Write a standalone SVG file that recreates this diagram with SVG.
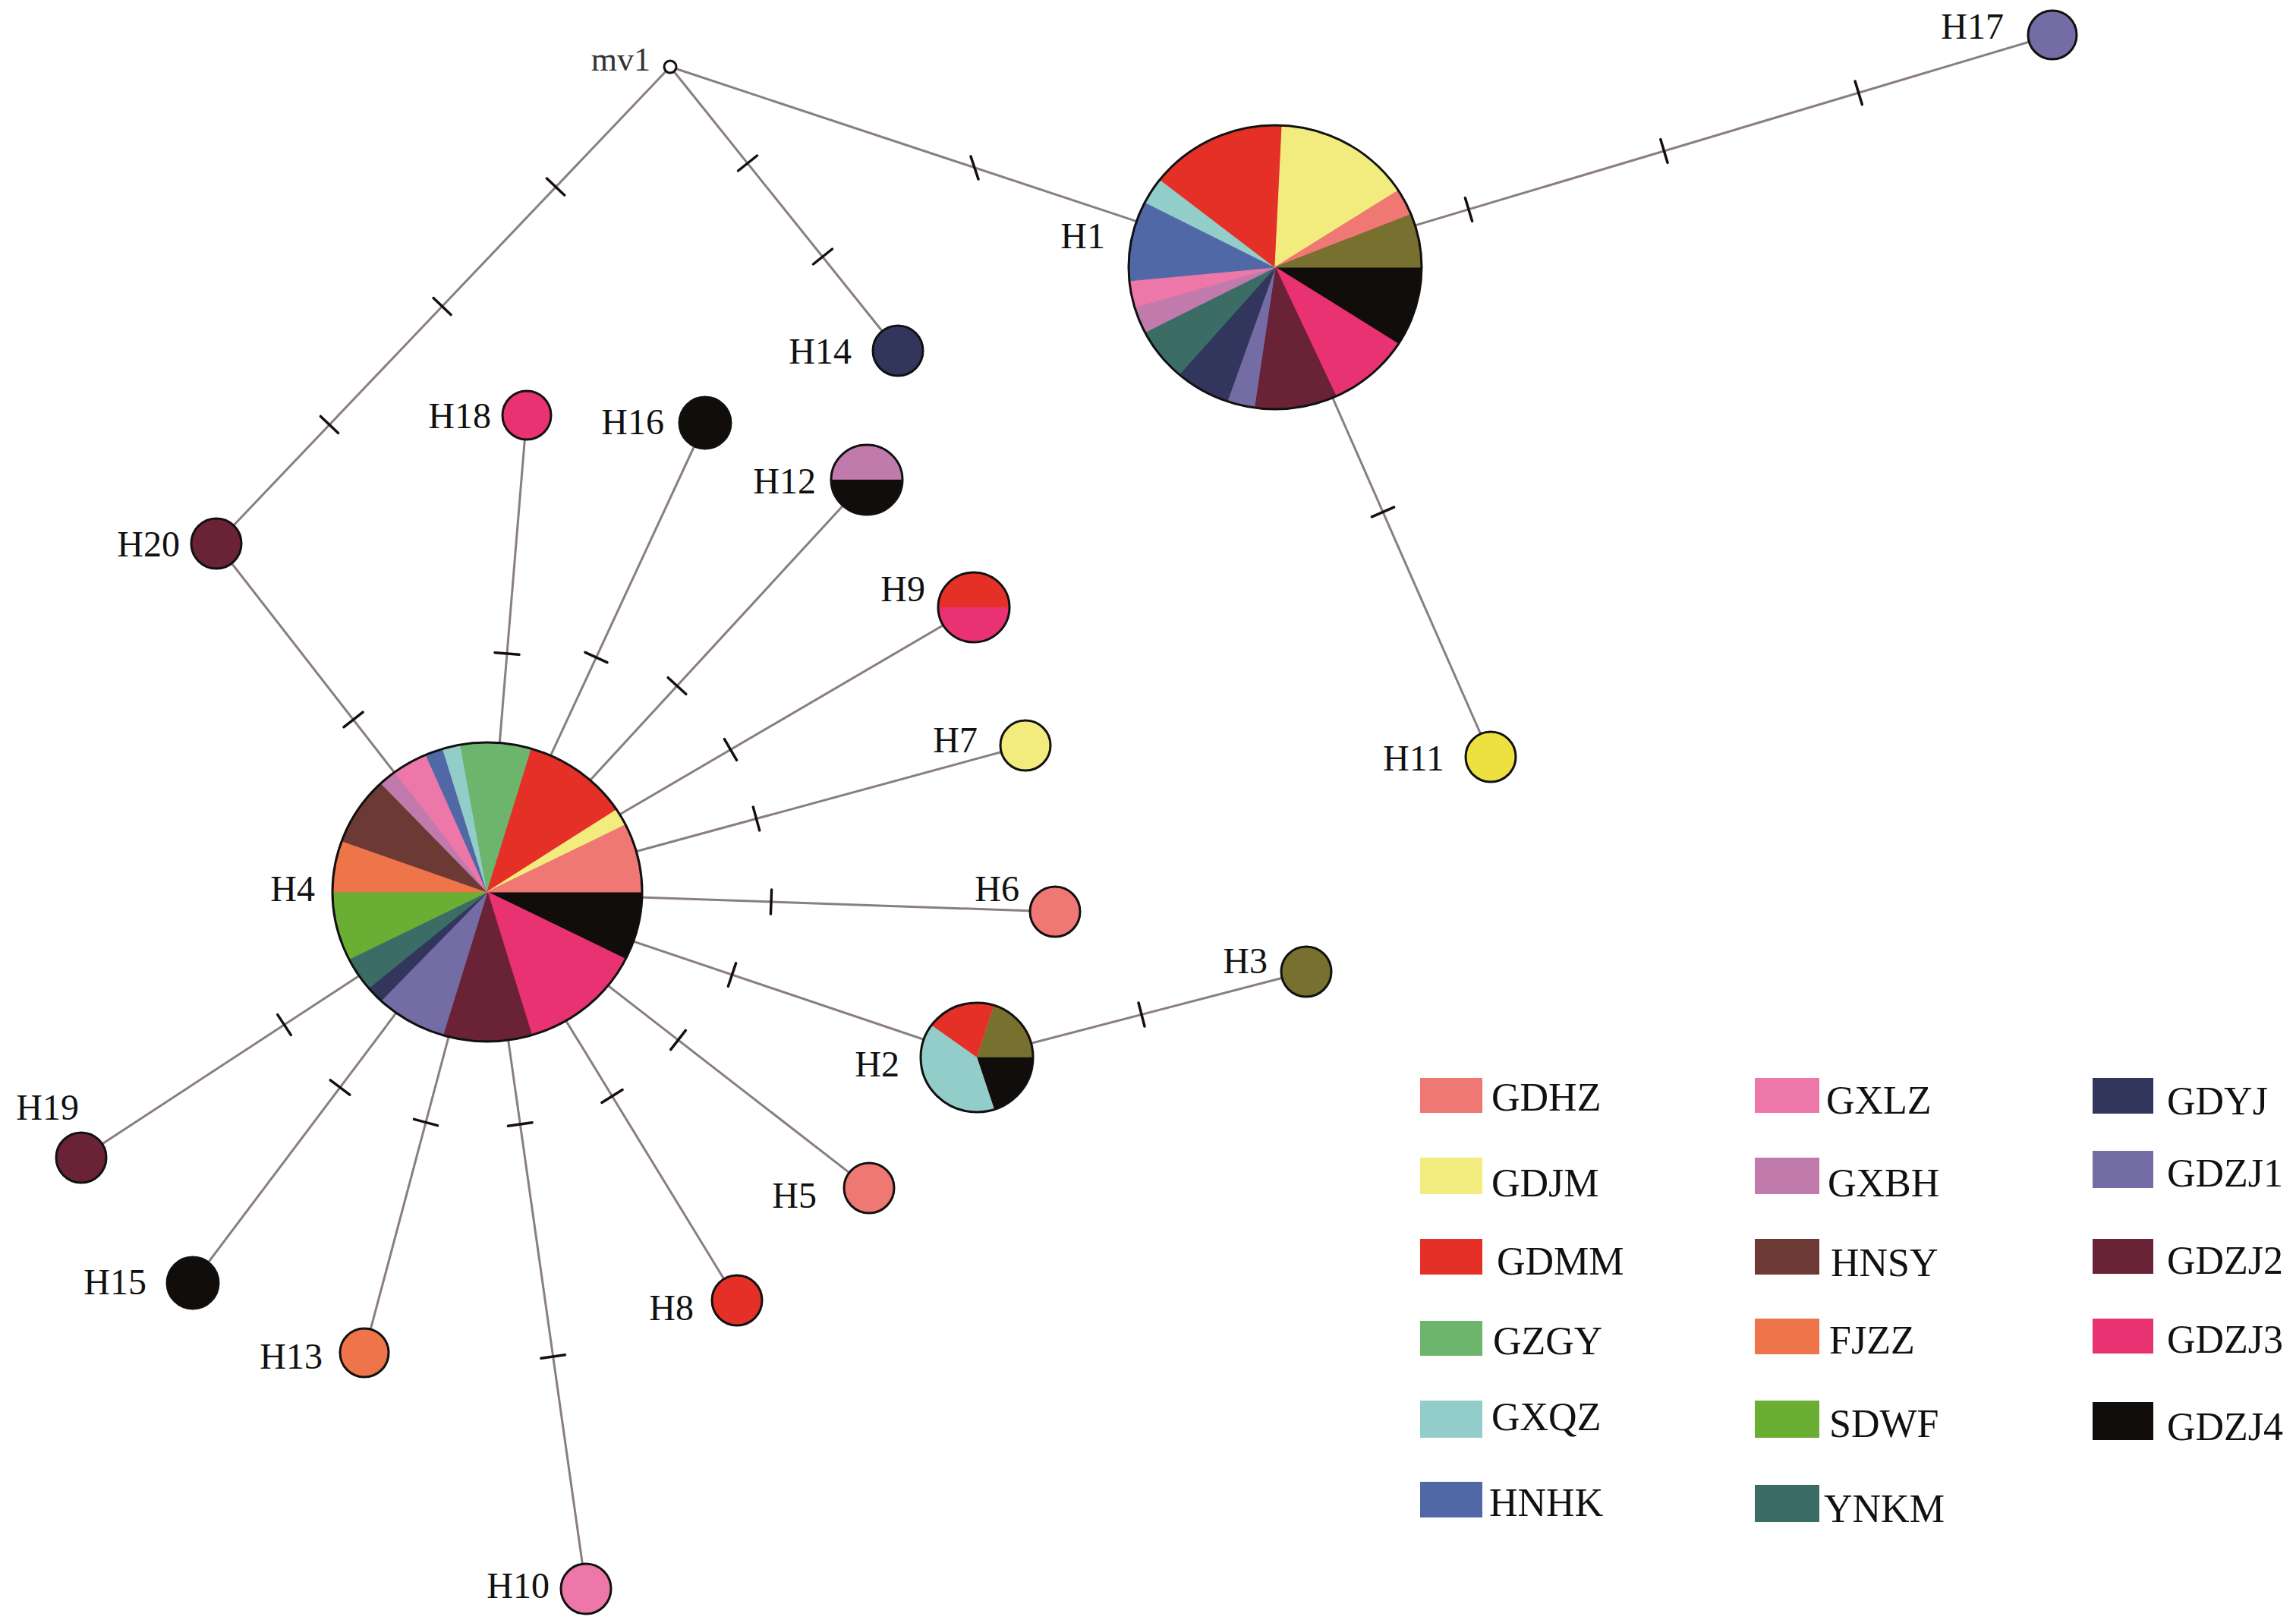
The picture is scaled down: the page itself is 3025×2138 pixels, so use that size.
<svg xmlns="http://www.w3.org/2000/svg" width="3025" height="2138" viewBox="0 0 3025 2138">
<style>
.e{stroke:#8a7e7e;stroke-width:3;fill:none}
.t{stroke:#141010;stroke-width:3.5;stroke-linecap:round}
.c1{fill:#EF7774;stroke:#EF7774}
.c2{fill:#F2EC7F;stroke:#F2EC7F}
.c3{fill:#E53027;stroke:#E53027}
.c4{fill:#6DB56D;stroke:#6DB56D}
.c5{fill:#93CDCA;stroke:#93CDCA}
.c6{fill:#5069A6;stroke:#5069A6}
.c7{fill:#EC77A8;stroke:#EC77A8}
.c8{fill:#C07AAB;stroke:#C07AAB}
.c9{fill:#6C3935;stroke:#6C3935}
.c10{fill:#EE744A;stroke:#EE744A}
.c11{fill:#6AAE33;stroke:#6AAE33}
.c12{fill:#3B6D66;stroke:#3B6D66}
.c13{fill:#33365C;stroke:#33365C}
.c14{fill:#746CA4;stroke:#746CA4}
.c15{fill:#6A2236;stroke:#6A2236}
.c16{fill:#E83272;stroke:#E83272}
.c17{fill:#110D0A;stroke:#110D0A}
.c18{fill:#77702E;stroke:#77702E}
.c19{fill:#EDE13F;stroke:#EDE13F}
.pie path{stroke-width:.006}
.n{stroke:#111;stroke-width:3}
.o{fill:none;stroke:#111;stroke-width:3}
.lb{font-family:"Liberation Serif","Times New Roman",serif;font-size:48px;fill:#111;text-anchor:end}
.lg{font-family:"Liberation Serif","Times New Roman",serif;font-size:52px;fill:#111}
.sw{stroke:none}
</style>
<rect width="3025" height="2138" fill="#fff"/>
<g id="connectors">
<line class="e" x1="883" y1="88" x2="1680" y2="352"/>
<line class="e" x1="883" y1="88" x2="1183" y2="462"/>
<line class="e" x1="883" y1="88" x2="285" y2="716"/>
<line class="e" x1="1680" y1="352" x2="2704" y2="46"/>
<line class="e" x1="1680" y1="352" x2="1964" y2="997"/>
<line class="e" x1="285" y1="716" x2="642" y2="1175"/>
<line class="e" x1="694" y1="547" x2="642" y2="1175"/>
<line class="e" x1="929" y1="557" x2="642" y2="1175"/>
<line class="e" x1="1142" y1="632" x2="642" y2="1175"/>
<line class="e" x1="1283" y1="800" x2="642" y2="1175"/>
<line class="e" x1="1351" y1="982" x2="642" y2="1175"/>
<line class="e" x1="1390" y1="1201" x2="642" y2="1175"/>
<line class="e" x1="1287" y1="1393" x2="642" y2="1175"/>
<line class="e" x1="1287" y1="1393" x2="1721" y2="1280"/>
<line class="e" x1="1145" y1="1565" x2="642" y2="1175"/>
<line class="e" x1="971" y1="1713" x2="642" y2="1175"/>
<line class="e" x1="772" y1="2093" x2="642" y2="1175"/>
<line class="e" x1="480" y1="1782" x2="642" y2="1175"/>
<line class="e" x1="254" y1="1690" x2="642" y2="1175"/>
<line class="e" x1="107" y1="1525" x2="642" y2="1175"/>
<line class="t" x1="1279" y1="206" x2="1289" y2="236"/>
<line class="t" x1="997.5" y1="205" x2="972.5" y2="225"/>
<line class="t" x1="1096.5" y1="328" x2="1071.5" y2="348"/>
<line class="t" x1="720.4" y1="235" x2="743.6" y2="257"/>
<line class="t" x1="571" y1="392.6" x2="594" y2="414.6"/>
<line class="t" x1="422.4" y1="548.4" x2="445.6" y2="570.4"/>
<line class="t" x1="1930.4" y1="260.7" x2="1939.6" y2="291.3"/>
<line class="t" x1="2187.8" y1="183.6" x2="2197" y2="214.2"/>
<line class="t" x1="2444.1" y1="107" x2="2453.3" y2="137.6"/>
<line class="t" x1="1836.6" y1="668.1" x2="1807.4" y2="680.9"/>
<line class="t" x1="478.1" y1="938.2" x2="452.9" y2="957.8"/>
<line class="t" x1="652" y1="859.7" x2="684" y2="862.3"/>
<line class="t" x1="800" y1="872.7" x2="771" y2="859.3"/>
<line class="t" x1="903.8" y1="914.3" x2="880.2" y2="892.7"/>
<line class="t" x1="970.6" y1="1001.3" x2="954.4" y2="973.7"/>
<line class="t" x1="1000.7" y1="1093.9" x2="992.3" y2="1063.1"/>
<line class="t" x1="1016.6" y1="1172" x2="1015.4" y2="1204"/>
<line class="t" x1="969.6" y1="1268.8" x2="959.4" y2="1299.2"/>
<line class="t" x1="1500" y1="1321" x2="1508" y2="1352"/>
<line class="t" x1="903.3" y1="1357.4" x2="883.7" y2="1382.6"/>
<line class="t" x1="820.1" y1="1435.6" x2="792.9" y2="1452.4"/>
<line class="t" x1="744.5" y1="1784.8" x2="712.9" y2="1789.2"/>
<line class="t" x1="701.1" y1="1478.8" x2="669.5" y2="1483.2"/>
<line class="t" x1="576.5" y1="1482.6" x2="545.5" y2="1474.4"/>
<line class="t" x1="460.8" y1="1442.1" x2="435.2" y2="1422.9"/>
<line class="t" x1="383.3" y1="1363.4" x2="365.7" y2="1336.6"/>
</g>
<g id="mv1">
<circle cx="883" cy="88" r="8" fill="#fff" stroke="#111" stroke-width="3"/>
<text x="857" y="93" style="font-family:'Liberation Serif','Times New Roman',serif;font-size:44px;fill:#333;text-anchor:end">mv1</text>
</g>
<g id="H1">
<g class="pie" transform="translate(1680,352) scale(193,187)">
<path class="c17" d="M0 0L1 0A1 1 0 0 1 .8413 .5406Z"/>
<path class="c16" d="M0 0L.8413 .5406A1 1 0 0 1 .4154 .9096Z"/>
<path class="c15" d="M0 0L.4154 .9096A1 1 0 0 1 -.1423 .9898Z"/>
<path class="c14" d="M0 0L-.1423 .9898A1 1 0 0 1 -.327 .945Z"/>
<path class="c13" d="M0 0L-.327 .945A1 1 0 0 1 -.6549 .7557Z"/>
<path class="c12" d="M0 0L-.6549 .7557A1 1 0 0 1 -.8888 .4582Z"/>
<path class="c8" d="M0 0L-.8888 .4582A1 1 0 0 1 -.9595 .2817Z"/>
<path class="c7" d="M0 0L-.9595 .2817A1 1 0 0 1 -.9955 .095Z"/>
<path class="c6" d="M0 0L-.9955 .095A1 1 0 0 1 -.8888 -.4582Z"/>
<path class="c5" d="M0 0L-.8888 -.4582A1 1 0 0 1 -.7861 -.6181Z"/>
<path class="c3" d="M0 0L-.7861 -.6181A1 1 0 0 1 .0476 -.9989Z"/>
<path class="c2" d="M0 0L.0476 -.9989A1 1 0 0 1 .8413 -.5406Z"/>
<path class="c1" d="M0 0L.8413 -.5406A1 1 0 0 1 .9284 -.3717Z"/>
<path class="c18" d="M0 0L.9284 -.3717A1 1 0 0 1 1 0Z"/>
</g>
<ellipse class="o" cx="1680" cy="352" rx="193" ry="187"/>
<text class="lb" x="1456" y="327">H1</text>
</g>
<g id="H4">
<g class="pie" transform="translate(642,1175) scale(204,197)">
<path class="c17" d="M0 0L1 0A1 1 0 0 1 .8936 .4488Z"/>
<path class="c16" d="M0 0L.8936 .4488A1 1 0 0 1 .2868 .958Z"/>
<path class="c15" d="M0 0L.2868 .958A1 1 0 0 1 -.2868 .958Z"/>
<path class="c14" d="M0 0L-.2868 .958A1 1 0 0 1 -.6862 .7274Z"/>
<path class="c13" d="M0 0L-.6862 .7274A1 1 0 0 1 -.766 .6428Z"/>
<path class="c12" d="M0 0L-.766 .6428A1 1 0 0 1 -.8936 .4488Z"/>
<path class="c11" d="M0 0L-.8936 .4488A1 1 0 0 1 -1 0Z"/>
<path class="c10" d="M0 0L-1 0A1 1 0 0 1 -.9397 -.342Z"/>
<path class="c9" d="M0 0L-.9397 -.342A1 1 0 0 1 -.6862 -.7274Z"/>
<path class="c8" d="M0 0L-.6862 -.7274A1 1 0 0 1 -.5972 -.8021Z"/>
<path class="c7" d="M0 0L-.5972 -.8021A1 1 0 0 1 -.3961 -.9182Z"/>
<path class="c6" d="M0 0L-.3961 -.9182A1 1 0 0 1 -.2868 -.958Z"/>
<path class="c5" d="M0 0L-.2868 -.958A1 1 0 0 1 -.1736 -.9848Z"/>
<path class="c4" d="M0 0L-.1736 -.9848A1 1 0 0 1 .2868 -.958Z"/>
<path class="c3" d="M0 0L.2868 -.958A1 1 0 0 1 .8355 -.5495Z"/>
<path class="c2" d="M0 0L.8355 -.5495A1 1 0 0 1 .8936 -.4488Z"/>
<path class="c1" d="M0 0L.8936 -.4488A1 1 0 0 1 1 0Z"/>
</g>
<ellipse class="o" cx="642" cy="1175" rx="204" ry="197"/>
<text class="lb" x="415" y="1187">H4</text>
</g>
<g id="H2">
<g class="pie" transform="translate(1287,1393) scale(74,72)">
<path class="c3" d="M0 0L-.809 -.5878A1 1 0 0 1 .309 -.9511Z"/>
<path class="c18" d="M0 0L.309 -.9511A1 1 0 0 1 1 0Z"/>
<path class="c17" d="M0 0L1 0A1 1 0 0 1 .309 .9511Z"/>
<path class="c5" d="M0 0L.309 .9511A1 1 0 0 1 -.809 -.5878Z"/>
</g>
<ellipse class="o" cx="1287" cy="1393" rx="74" ry="72"/>
<text class="lb" x="1185" y="1418">H2</text>
</g>
<g id="H12">
<g class="pie" transform="translate(1142,632) scale(47,46)">
<path class="c8" d="M-1 0A1 1 0 0 1 1 0Z"/>
<path class="c17" d="M1 0A1 1 0 0 1 -1 0Z"/>
</g>
<ellipse class="o" cx="1142" cy="632" rx="47" ry="46"/>
<text class="lb" x="1075" y="650">H12</text>
</g>
<g id="H9">
<g class="pie" transform="translate(1283,800) scale(47,46)">
<path class="c3" d="M-1 0A1 1 0 0 1 1 0Z"/>
<path class="c16" d="M1 0A1 1 0 0 1 -1 0Z"/>
</g>
<ellipse class="o" cx="1283" cy="800" rx="47" ry="46"/>
<text class="lb" x="1219" y="792">H9</text>
</g>
<g id="H17"><circle class="c14 n" cx="2704" cy="46" r="32"/><text class="lb" x="2640" y="51">H17</text></g>
<g id="H14"><circle class="c13 n" cx="1183" cy="462" r="33"/><text class="lb" x="1122" y="479">H14</text></g>
<g id="H11"><circle class="c19 n" cx="1964" cy="997" r="33"/><text class="lb" x="1903" y="1015">H11</text></g>
<g id="H18"><circle class="c16 n" cx="694" cy="547" r="32"/><text class="lb" x="647" y="564">H18</text></g>
<g id="H16"><circle class="c17 n" cx="929" cy="557" r="34"/><text class="lb" x="875" y="572">H16</text></g>
<g id="H20"><circle class="c15 n" cx="285" cy="716" r="33"/><text class="lb" x="237" y="733">H20</text></g>
<g id="H7"><circle class="c2 n" cx="1351" cy="982" r="33"/><text class="lb" x="1288" y="991">H7</text></g>
<g id="H6"><circle class="c1 n" cx="1390" cy="1201" r="33"/><text class="lb" x="1343" y="1187">H6</text></g>
<g id="H3"><circle class="c18 n" cx="1721" cy="1280" r="33"/><text class="lb" x="1670" y="1282">H3</text></g>
<g id="H19"><circle class="c15 n" cx="107" cy="1525" r="33"/><text class="lb" x="104" y="1475">H19</text></g>
<g id="H5"><circle class="c1 n" cx="1145" cy="1565" r="33"/><text class="lb" x="1076" y="1591">H5</text></g>
<g id="H15"><circle class="c17 n" cx="254" cy="1690" r="34"/><text class="lb" x="193" y="1705">H15</text></g>
<g id="H8"><circle class="c3 n" cx="971" cy="1713" r="33"/><text class="lb" x="914" y="1739">H8</text></g>
<g id="H13"><circle class="c10 n" cx="480" cy="1782" r="32"/><text class="lb" x="425" y="1803">H13</text></g>
<g id="H10"><circle class="c7 n" cx="772" cy="2093" r="33"/><text class="lb" x="724" y="2105">H10</text></g>
<g id="legend">
<rect class="c1 sw" x="1871" y="1420" width="82" height="46"/><text class="lg" x="1965" y="1463">GDHZ</text>
<rect class="c2 sw" x="1871" y="1525" width="82" height="48"/><text class="lg" x="1965" y="1576">GDJM</text>
<rect class="c3 sw" x="1871" y="1632" width="82" height="47"/><text class="lg" x="1972" y="1679">GDMM</text>
<rect class="c4 sw" x="1871" y="1740" width="82" height="46"/><text class="lg" x="1967" y="1784">GZGY</text>
<rect class="c5 sw" x="1871" y="1845" width="82" height="49"/><text class="lg" x="1965" y="1884">GXQZ</text>
<rect class="c6 sw" x="1871" y="1952" width="82" height="47"/><text class="lg" x="1962" y="1997">HNHK</text>
<rect class="c7 sw" x="2312" y="1420" width="85" height="46"/><text class="lg" x="2406" y="1467">GXLZ</text>
<rect class="c8 sw" x="2312" y="1525" width="85" height="48"/><text class="lg" x="2408" y="1576">GXBH</text>
<rect class="c9 sw" x="2312" y="1632" width="85" height="47"/><text class="lg" x="2412" y="1681">HNSY</text>
<rect class="c10 sw" x="2312" y="1737" width="85" height="47"/><text class="lg" x="2410" y="1783">FJZZ</text>
<rect class="c11 sw" x="2312" y="1845" width="85" height="49"/><text class="lg" x="2410" y="1893">SDWF</text>
<rect class="c12 sw" x="2312" y="1956" width="85" height="49"/><text class="lg" x="2403" y="2005">YNKM</text>
<rect class="c13 sw" x="2757" y="1420" width="80" height="47"/><text class="lg" x="2855" y="1468">GDYJ</text>
<rect class="c14 sw" x="2757" y="1516" width="80" height="49"/><text class="lg" x="2855" y="1563">GDZJ1</text>
<rect class="c15 sw" x="2757" y="1632" width="80" height="46"/><text class="lg" x="2855" y="1678">GDZJ2</text>
<rect class="c16 sw" x="2757" y="1737" width="80" height="46"/><text class="lg" x="2855" y="1782">GDZJ3</text>
<rect class="c17 sw" x="2757" y="1847" width="80" height="50"/><text class="lg" x="2855" y="1897">GDZJ4</text>
</g>
</svg>
